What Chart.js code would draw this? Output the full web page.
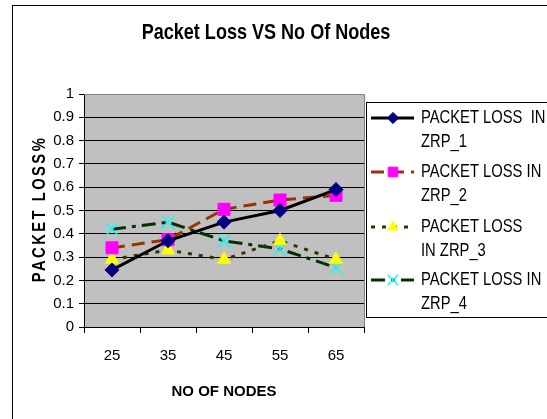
<!DOCTYPE html>
<html>
<head>
<style>
  html, body { margin: 0; padding: 0; background: #fff; }
  #wrap { width: 547px; height: 419px; }
</style>
</head>
<body>
<div id="wrap"><canvas id="chart" width="547" height="419"></canvas></div>
<script src="https://cdn.jsdelivr.net/npm/chart.js@4.4.1/dist/chart.umd.min.js"></script>
<script>
// data
var nodes = ['25', '35', '45', '55', '65'];
var zrp1 = [0.245, 0.37, 0.45, 0.50, 0.59];
var zrp2 = [0.34, 0.375, 0.505, 0.545, 0.565];
var zrp3 = [0.29, 0.33, 0.29, 0.37, 0.29];
var zrp4 = [0.42, 0.45, 0.37, 0.335, 0.255];
var seriesNames = ['PACKET LOSS  IN ZRP_1', 'PACKET LOSS IN ZRP_2', 'PACKET LOSS IN ZRP_3', 'PACKET LOSS IN ZRP_4'];
var legendLines = [['PACKET LOSS  IN', 'ZRP_1'], ['PACKET LOSS IN', 'ZRP_2'], ['PACKET LOSS', 'IN ZRP_3'], ['PACKET LOSS IN', 'ZRP_4']];
var chartTitle = 'Packet Loss VS No Of Nodes';
var xTitle = 'NO OF NODES';
var yTitle = 'PACKET LOSS%';

var FONT = "'Liberation Sans', Arial, sans-serif";
var SQUEEZE = 0.82; // the original text looks condensed

// text drawn squeezed horizontally
function narrowText(ctx, text, x, y, font, align) {
  ctx.save();
  ctx.font = font;
  ctx.textAlign = align;
  ctx.textBaseline = 'middle';
  ctx.translate(x, y);
  ctx.scale(SQUEEZE, 1);
  ctx.fillText(text, 0, 0);
  ctx.restore();
}

var frame = {
  id: 'frame',
  beforeDraw: function (chart) {
    var ctx = chart.ctx, a = chart.chartArea;
    ctx.save();
    ctx.fillStyle = '#fff';
    ctx.fillRect(0, 0, chart.width, chart.height);
    ctx.strokeStyle = '#000';
    ctx.lineWidth = 1;
    ctx.strokeRect(12.5, 5.5, 560, 430);
    ctx.fillStyle = '#c0c0c0';
    ctx.fillRect(a.left, a.top, a.right - a.left, a.bottom - a.top);
    ctx.restore();
  },
  afterDraw: function (chart) {
    var ctx = chart.ctx, a = chart.chartArea;
    ctx.save();
    // plot border
    ctx.strokeStyle = '#808080';
    ctx.lineWidth = 1;
    ctx.beginPath();
    ctx.moveTo(a.left, a.top + 0.5);
    ctx.lineTo(a.right + 0.5, a.top + 0.5);
    ctx.lineTo(a.right + 0.5, a.bottom);
    ctx.stroke();
    ctx.fillStyle = '#000';
    narrowText(ctx, chartTitle, 266, 33, 'bold 22px ' + FONT, 'center');
    // y title
    ctx.save();
    ctx.translate(40, 209);
    ctx.rotate(-Math.PI / 2);
    ctx.font = 'bold 18px ' + FONT;
    ctx.textAlign = 'center';
    ctx.textBaseline = 'middle';
    ctx.scale(SQUEEZE, 1);
    ctx.letterSpacing = '3px';
    ctx.fillText(yTitle, 0, 0);
    ctx.restore();
    // legend
    var lx = 366, ly = 102;
    ctx.strokeStyle = '#000';
    ctx.lineWidth = 1;
    ctx.strokeRect(lx + 0.5, ly + 0.5, 200, 215);
    var rows = [118, 172, 227, 280];
    chart.data.datasets.forEach(function (ds, i) {
      var y = rows[i];
      ctx.save();
      ctx.strokeStyle = ds.borderColor;
      ctx.lineWidth = ds.borderWidth;
      ctx.setLineDash(ds.borderDash || []);
      ctx.beginPath();
      ctx.moveTo(371, y);
      ctx.lineTo(414, y);
      ctx.stroke();
      ctx.restore();
      ctx.save();
      ctx.fillStyle = ds.pointBackgroundColor;
      ctx.strokeStyle = ds.pointBorderColor;
      ctx.lineWidth = ds.pointBorderWidth;
      Chart.helpers.drawPoint(ctx, {
        pointStyle: ds.pointStyle,
        radius: ds.pointRadius * 0.8,
        borderWidth: ds.pointBorderWidth,
        rotation: 0
      }, 393, y);
      ctx.restore();
      ctx.fillStyle = '#000';
      narrowText(ctx, legendLines[i][0], 421, y, '18px ' + FONT, 'left');
      narrowText(ctx, legendLines[i][1], 421, y + 24, '18px ' + FONT, 'left');
    });
    ctx.restore();
  }
};

var ctx = document.getElementById('chart').getContext('2d');
new Chart(ctx, {
  type: 'line',
  data: {
    labels: nodes,
    datasets: [
      {
        label: seriesNames[0], data: zrp1,
        borderColor: '#000000', borderWidth: 3,
        pointStyle: 'rectRot', pointRadius: 7,
        pointBackgroundColor: '#000080', pointBorderColor: '#000080', pointBorderWidth: 1
      },
      {
        label: seriesNames[1], data: zrp2,
        borderColor: '#993300', borderWidth: 3, borderDash: [13, 7],
        pointStyle: 'rect', pointRadius: 8.5,
        pointBackgroundColor: '#ff00ff', pointBorderColor: '#ff00ff', pointBorderWidth: 1
      },
      {
        label: seriesNames[2], data: zrp3,
        borderColor: '#333300', borderWidth: 3, borderDash: [4, 7],
        pointStyle: 'triangle', pointRadius: 7.5,
        pointBackgroundColor: '#ffff00', pointBorderColor: '#ffff00', pointBorderWidth: 1
      },
      {
        label: seriesNames[3], data: zrp4,
        borderColor: '#003300', borderWidth: 3, borderDash: [14, 6, 4, 6],
        pointStyle: 'crossRot', pointRadius: 9,
        pointBackgroundColor: '#00ffff', pointBorderColor: '#00ffff', pointBorderWidth: 1.5
      }
    ]
  },
  options: {
    responsive: false,
    animation: false,
    layout: { padding: { top: 94, right: 183, bottom: 0, left: 0 } },
    plugins: { legend: { display: false }, title: { display: false }, tooltip: { enabled: false } },
    elements: { line: { tension: 0 } },
    scales: {
      x: {
        offset: true,
        grid: { offset: true, drawOnChartArea: false, drawTicks: true, tickLength: 6, color: '#000' },
        border: { color: '#000', width: 1 },
        ticks: { color: '#000', font: { family: FONT, size: 15 }, padding: 14, maxRotation: 0 },
        title: { display: true, text: xTitle, color: '#000', font: { family: FONT, size: 15, weight: 'bold' }, padding: { bottom: 18 } },
        afterFit: function (s) { s.height = 92; }
      },
      y: {
        min: 0, max: 1,
        grid: { color: '#000', drawTicks: true, tickLength: 5 },
        border: { color: '#000', width: 1 },
        ticks: {
          stepSize: 0.1, autoSkip: false, color: '#000', font: { family: FONT, size: 15 }, padding: 5,
          callback: function (v) { return String(Math.round(v * 10) / 10); }
        },
        afterFit: function (s) { s.width = 84; }
      }
    }
  },
  plugins: [frame]
});
</script>
</body>
</html>
